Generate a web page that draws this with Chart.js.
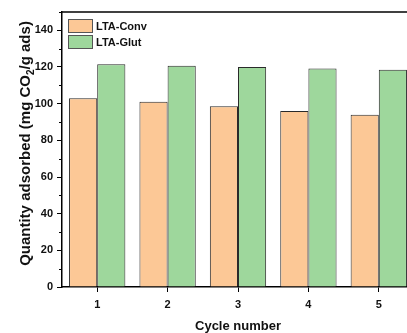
<!DOCTYPE html>
<html>
<head>
<meta charset="utf-8">
<script src="https://cdn.jsdelivr.net/npm/chart.js@4"></script>
<style>
html,body{margin:0;padding:0;background:#fff;overflow:hidden;}
#wrap{width:414px;height:333px;}
</style>
</head>
<body>
<div id="wrap"><canvas id="c" width="414" height="333"></canvas></div>
<script>
const categories = ['1', '2', '3', '4', '5'];
const seriesNames = ['LTA-Conv', 'LTA-Glut'];
const conv = [103, 101, 98.6, 96, 94];
const glut = [121.5, 120.7, 120, 119.2, 118.5];
const yTicks = [0, 20, 40, 60, 80, 100, 120, 140];
const yMinorTicks = [10, 30, 50, 70, 90, 110, 130, 150];
const xTitle = 'Cycle number';
const yTitleParts = ['Quantity adsorbed (mg CO', '2', '/g ads)'];

const FONT = '"Liberation Sans", Arial, sans-serif';

const extras = {
  id: 'extras',
  afterDraw(chart) {
    const ctx = chart.ctx;
    const a = chart.chartArea;
    const y = chart.scales.y;
    ctx.save();
    // top frame
    ctx.strokeStyle = '#000';
    ctx.lineWidth = 1.5;
    ctx.beginPath();
    ctx.moveTo(a.left - 0.75, a.top);
    ctx.lineTo(a.right + 5, a.top);
    ctx.stroke();
    // minor ticks
    ctx.lineWidth = 1;
    yMinorTicks.forEach(v => {
      const py = Math.round(y.getPixelForValue(v)) + 0.5;
      ctx.beginPath();
      ctx.moveTo(a.left - 3, py);
      ctx.lineTo(a.left, py);
      ctx.stroke();
    });
    // legend
    const ds = chart.data.datasets;
    ctx.font = 'bold 11px ' + FONT;
    ctx.textBaseline = 'middle';
    ctx.textAlign = 'left';
    ds.forEach((d, i) => {
      const bx = a.left + 6.5, by = a.top + 7.5 + i * 16, bw = 24, bh = 13;
      ctx.fillStyle = d.backgroundColor;
      ctx.fillRect(bx, by, bw, bh);
      ctx.strokeStyle = '#555';
      ctx.lineWidth = 1;
      ctx.strokeRect(bx, by, bw, bh);
      ctx.fillStyle = '#111';
      ctx.fillText(d.label, bx + bw + 3.5, by + bh / 2 + 0.5);
    });
    // x title
    ctx.font = 'bold 13px ' + FONT;
    ctx.textAlign = 'center';
    ctx.textBaseline = 'alphabetic';
    ctx.fillStyle = '#111';
    ctx.fillText(xTitle, (a.left + a.right) / 2, 329.5);
    // y title with subscript
    const mainFont = 'bold 15px ' + FONT;
    const subFont = 'bold 10px ' + FONT;
    ctx.font = mainFont;
    const w0 = ctx.measureText(yTitleParts[0]).width;
    const w2 = ctx.measureText(yTitleParts[2]).width;
    ctx.font = subFont;
    const w1 = ctx.measureText(yTitleParts[1]).width;
    const total = w0 + w1 + w2;
    const cx = 25, cy = (a.top + a.bottom) / 2 - 6;
    ctx.translate(cx, cy);
    ctx.rotate(-Math.PI / 2);
    ctx.textAlign = 'left';
    let x0 = -total / 2;
    const base = 5;
    ctx.font = mainFont;
    ctx.fillText(yTitleParts[0], x0, base);
    ctx.font = subFont;
    ctx.fillText(yTitleParts[1], x0 + w0, base + 4);
    ctx.font = mainFont;
    ctx.fillText(yTitleParts[2], x0 + w0 + w1, base);
    ctx.restore();
  }
};

new Chart(document.getElementById('c'), {
  type: 'bar',
  data: {
    labels: categories,
    datasets: [
      { label: seriesNames[0], data: conv, backgroundColor: '#FCC896', borderColor: '#2a2a2a', borderWidth: 1 },
      { label: seriesNames[1], data: glut, backgroundColor: '#9ED79C', borderColor: '#2a2a2a', borderWidth: 1 }
    ]
  },
  options: {
    responsive: false,
    animation: false,
    devicePixelRatio: 1,
    layout: { padding: { top: 12, right: 0, left: 0, bottom: 0 } },
    datasets: { bar: { categoryPercentage: 0.8, barPercentage: 1.0 } },
    plugins: { legend: { display: false }, tooltip: { enabled: false } },
    scales: {
      x: {
        grid: { display: true, drawOnChartArea: false, offset: false, color: '#000', tickLength: 5, lineWidth: 1 },
        border: { display: true, color: '#000', width: 1.5 },
        ticks: { color: '#111', font: { family: FONT, size: 11, weight: 'bold' }, padding: 6 },
        title: { display: false },
        afterFit(s) { s.height = 46; }
      },
      y: {
        min: 0, max: 150,
        afterBuildTicks(s) { s.ticks = yTicks.map(v => ({ value: v })); },
        grid: { display: true, drawOnChartArea: false, color: '#000', tickLength: 5, lineWidth: 1 },
        border: { display: true, color: '#000', width: 1.5 },
        ticks: { color: '#111', font: { family: FONT, size: 11, weight: 'bold' }, padding: 4 },
        title: { display: false },
        afterFit(s) { s.width = 62; }
      }
    }
  },
  plugins: [extras]
});
</script>
</body>
</html>
